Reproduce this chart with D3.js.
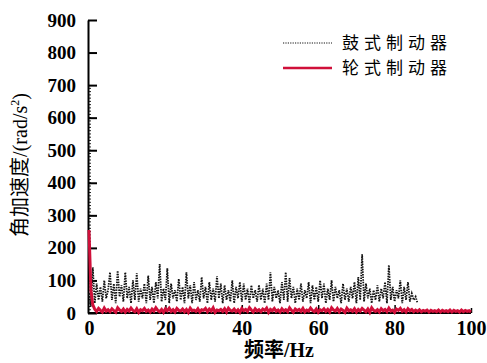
<!DOCTYPE html>
<html>
<head>
<meta charset="utf-8">
<script src="https://cdn.jsdelivr.net/npm/d3@7"></script>
<style>
  body { margin: 0; background: #fff; }
  svg { display: block; }
</style>
</head>
<body>
<div id="chart"></div>
<script>
// frequency step of the sampled spectra (Hz)
const step = 0.5;

// drum brake (鼓式制动器), 0 .. 86 Hz
const drumValues = [
  60, 20, 140, 30, 90, 40, 80, 35, 100, 45, 70,
  125, 40, 90, 30, 130, 50, 85, 35, 125, 45,
  80, 30, 100, 40, 122, 35, 75, 45, 90, 30,
  115, 40, 80, 30, 95, 45, 150, 35, 75, 40,
  137, 30, 90, 45, 70, 35, 105, 40, 80, 30,
  125, 45, 85, 30, 95, 40, 70, 35, 110, 45,
  80, 30, 95, 40, 75, 35, 113, 45, 90, 30,
  85, 40, 70, 35, 100, 30, 80, 45, 95, 35,
  90, 40, 75, 30, 85, 45, 70, 35, 86, 40,
  75, 30, 90, 40, 125, 35, 80, 45, 70, 30,
  95, 40, 125, 35, 107, 45, 80, 30, 75, 40,
  90, 35, 70, 45, 95, 30, 85, 40, 80, 35,
  100, 45, 90, 30, 75, 40, 100, 35, 80, 45,
  70, 30, 90, 40, 75, 35, 80, 45, 95, 30,
  110, 40, 180, 35, 90, 45, 75, 30, 70, 40,
  85, 35, 75, 45, 95, 30, 147, 40, 80, 35,
  70, 45, 100, 30, 80, 40, 95, 35, 60, 40,
  50, 30
];

// disc brake (轮式制动器), 0 .. 100 Hz
const discValues = [
  255, 70, 25, 12, 5, 14, 8, 3, 15, 6, 10,
  4, 13, 7, 2, 16, 9, 5, 12, 3, 11,
  6, 15, 8, 4, 13, 2, 10, 7, 14, 5,
  9, 3, 12, 6, 16, 8, 4, 11, 2, 13,
  7, 15, 5, 10, 3, 14, 8, 6, 12, 4,
  11, 2, 15, 7, 9, 5, 13, 3, 10, 8,
  14, 4, 12, 6, 16, 2, 9, 7, 11, 5,
  13, 3, 15, 8, 6, 12, 4, 10, 2, 14,
  7, 11, 5, 16, 9, 3, 13, 6, 10, 4,
  12, 8, 15, 2, 11, 7, 14, 5, 9, 3,
  13, 6, 10, 4, 16, 8, 2, 12, 7, 11,
  5, 14, 3, 9, 6, 15, 8, 4, 12, 2,
  10, 7, 13, 5, 11, 3, 16, 9, 6, 14,
  4, 12, 8, 2, 15, 7, 10, 5, 13, 3,
  11, 6, 14, 9, 4, 12, 2, 16, 8, 5,
  10, 3, 13, 7, 11, 4, 15, 6, 9, 2,
  12, 8, 14, 5, 10, 3, 13, 7, 11, 4,
  9, 5, 10, 4, 8, 6, 9, 3, 8, 5,
  7, 4, 9, 3, 8, 5, 7, 4, 9, 3,
  8, 5, 7, 3, 9, 4, 8, 5, 7, 3
];

const xTicks = [0, 20, 40, 60, 80, 100];
const yTicks = [0, 100, 200, 300, 400, 500, 600, 700, 800, 900];
const seriesNames = ["鼓式制动器", "轮式制动器"];

const width = 487, height = 363;
const x = d3.scaleLinear().domain([0, 100]).range([89, 471]);
const y = d3.scaleLinear().domain([0, 900]).range([313, 20]);
const red = "#d0103a";
const serif = "Times New Roman, Liberation Serif, Times, serif";
const mixed = "Times New Roman, Liberation Serif, Noto Sans CJK SC, serif";

const svg = d3.select("#chart").append("svg")
  .attr("width", width).attr("height", height);

// bold serif labels
function boldSerif(sel, size) {
  sel.style("font-family", serif)
    .style("font-size", size + "px")
    .style("font-weight", "bold")
    .attr("fill", "#000");
}

// minor y ticks (only below 700)
const minor = d3.range(10, 700, 10);
svg.append("g").selectAll("line").data(minor).enter().append("line")
  .attr("x1", 88).attr("x2", 91)
  .attr("y1", d => y(d)).attr("y2", d => y(d))
  .attr("stroke", "#222").attr("stroke-width", 1);

// y axis
const yAxis = svg.append("g")
  .attr("transform", "translate(88,0)")
  .call(d3.axisLeft(y).tickValues(yTicks).tickSizeInner(-9).tickSizeOuter(0).tickPadding(12));
yAxis.attr("font-family", null).attr("font-size", null);
yAxis.select(".domain").attr("stroke-width", 2);
yAxis.selectAll(".tick line").attr("stroke-width", 2);
yAxis.selectAll(".tick text").call(boldSerif, 19);

// x axis
const xAxis = svg.append("g")
  .attr("transform", "translate(0,313)")
  .call(d3.axisBottom(x).tickValues(xTicks).tickSizeInner(-8).tickSizeOuter(0).tickPadding(6));
xAxis.attr("font-family", null).attr("font-size", null);
xAxis.select(".domain").attr("stroke-width", 2).attr("d", "M88,0H471");
xAxis.selectAll(".tick line").attr("stroke-width", 1.5)
  .attr("y2", d => d === 100 ? -5 : (d === 0 ? 0 : -8));
xAxis.selectAll(".tick text").call(boldSerif, 20)
  .attr("y", 8).attr("dy", "0.71em");

// series
const drumData = drumValues.map((v, i) => [i * step, v]);
const discData = discValues.map((v, i) => [i * step, v]);
const line = d3.line().x(d => x(d[0])).y(d => y(d[1]));

svg.append("path").datum(drumData)
  .attr("d", line)
  .attr("fill", "none")
  .attr("stroke", "#111")
  .attr("stroke-width", 1.8)
  .attr("stroke-dasharray", "1.5,1.1");

svg.append("path").datum(discData)
  .attr("d", line)
  .attr("fill", "none")
  .attr("stroke", red)
  .attr("stroke-width", 3);

// axis titles
const yTitle = svg.append("text")
  .attr("transform", "translate(27,165) rotate(-90)")
  .attr("text-anchor", "middle")
  .style("font-family", mixed)
  .style("font-size", "20px");
yTitle.append("tspan").text("角加速度/(rad/s");
yTitle.append("tspan").style("font-size", "12px").attr("dy", -8).text("2");
yTitle.append("tspan").attr("dy", 8).text(")");

svg.append("text")
  .attr("x", 279).attr("y", 357)
  .attr("text-anchor", "middle")
  .call(boldSerif, 20)
  .style("font-family", mixed)
  .text("频率/Hz");

// legend
const legend = svg.append("g");
const legendStyles = [
  { stroke: "#111", width: 1, dash: "1.2,1.2" },
  { stroke: red, width: 2.5, dash: null }
];
seriesNames.forEach((name, i) => {
  const ly = 43 + i * 25;
  legend.append("line")
    .attr("x1", 283).attr("x2", 332)
    .attr("y1", ly).attr("y2", ly)
    .attr("stroke", legendStyles[i].stroke)
    .attr("stroke-width", legendStyles[i].width)
    .attr("stroke-dasharray", legendStyles[i].dash);
  legend.append("text")
    .attr("x", 342).attr("y", ly + 6)
    .style("font-family", "Noto Sans CJK SC, sans-serif")
    .style("font-size", "17px")
    .attr("letter-spacing", 5)
    .text(name);
});
</script>
</body>
</html>
